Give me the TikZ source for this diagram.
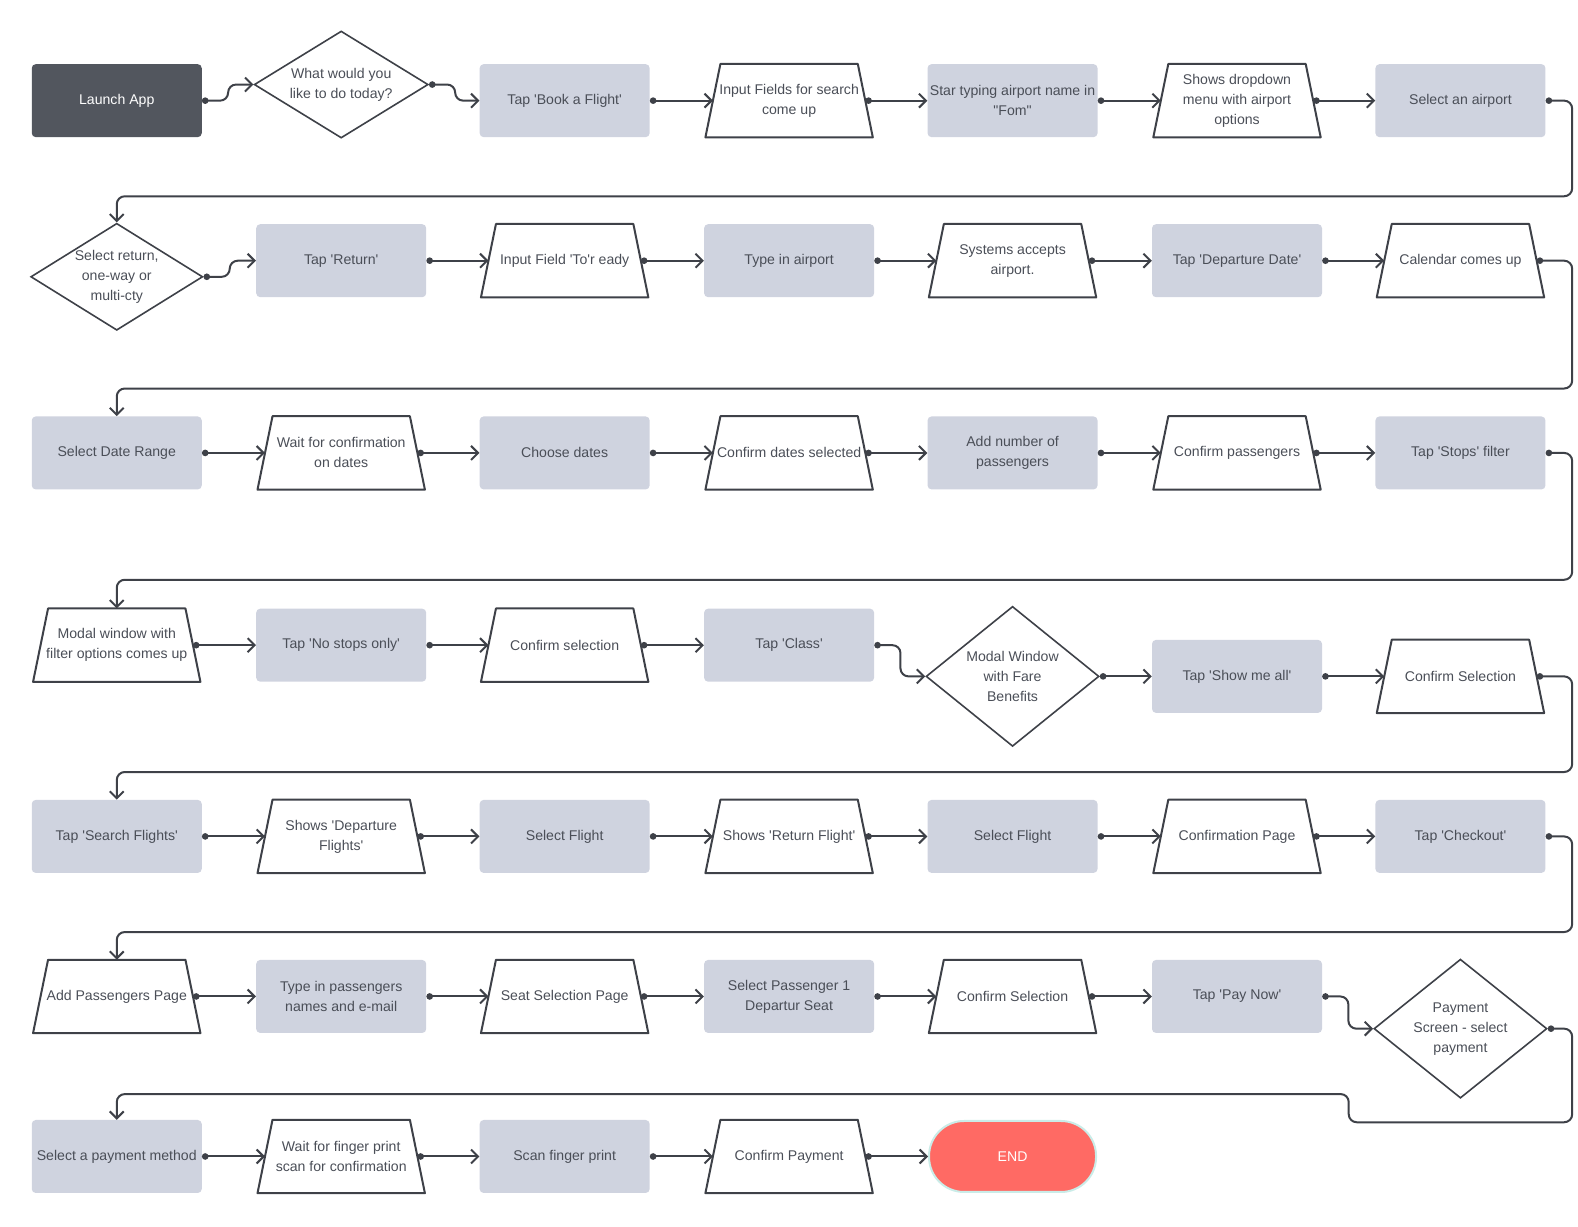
\documentclass[tikz,border=0pt]{standalone}
\usepackage{fontspec}
\usepackage{xcolor}
\usepackage{tikz}
\usetikzlibrary{arrows.meta, shapes.geometric}

\newfontfamily\flowfont{Liberation Sans}
\definecolor{linegray}{RGB}{62,65,72}
\definecolor{textgray}{RGB}{74,78,87}
\definecolor{boxgray}{RGB}{207,211,223}
\definecolor{darkbox}{RGB}{82,86,94}
\definecolor{endred}{RGB}{255,106,100}
\definecolor{endrim}{RGB}{202,236,232}

\begin{document}
\begin{tikzpicture}[x=1.0065bp, y=-1.0065bp,
        every node/.style={font=\flowfont\fontsize{14.1bp}{20bp}\selectfont, text=textgray, align=center},
        action/.style={rectangle, rounded corners=4bp, fill=boxgray, minimum width=170bp, minimum height=73bp, inner sep=0pt},
        launchbox/.style={action, fill=darkbox, text=white},
        screen/.style={rectangle, minimum width=152bp, minimum height=73bp, inner sep=0pt},
        screenline/.style={draw=linegray, line width=2bp, line join=round},
        choice/.style={diamond, aspect=1.6, draw=linegray, line width=1.6bp, minimum width=174bp, minimum height=107bp, inner sep=0pt},
        endbox/.style={rectangle, rounded corners=35bp, fill=endred, draw=endrim, line width=2bp, text=white, minimum width=167bp, minimum height=71bp},
        flow/.style={draw=linegray, line width=2bp, rounded corners=8bp, arrows={Circle[length=6.5bp]-Straight Barb[length=7bp,width=14bp]}}]

        \useasboundingbox (0,0) rectangle (1567.8,1218.1);

        %% Row 1
        \node (launch) [launchbox] at (116,100) {Launch App};
        \node (what) [choice] at (339,84) {What would you\\like to do today?};
        \node (book) [action] at (561,100) {Tap 'Book a Flight'};
        \node (fields) [screen] at (784,100) {Input Fields for search\\come up};
        \node (typing) [action] at (1006,100) {Star typing airport name in\\"Fom"};
        \node (dropdown) [screen] at (1229,100) {Shows dropdown\\menu with airport\\options};
        \node (selair) [action] at (1451,100) {Select an airport};

        %% Row 2
        \node (tripdia) [choice, minimum width=172bp] at (116,275) {Select return,\\one-way or\\multi-cty};
        \node (tapret) [action] at (339,259) {Tap 'Return'};
        \node (tofield) [screen] at (561,259) {Input Field 'To'r eady};
        \node (typeair) [action] at (784,259) {Type in airport};
        \node (accepts) [screen] at (1006,259) {Systems accepts\\airport.};
        \node (depdate) [action] at (1229,259) {Tap 'Departure Date'};
        \node (calendar) [screen] at (1451,259) {Calendar comes up};

        %% Row 3
        \node (range) [action] at (116,450) {Select Date Range};
        \node (waitdates) [screen] at (339,450) {Wait for confirmation\\on dates};
        \node (choose) [action] at (561,450) {Choose dates};
        \node (confdates) [screen] at (784,450) {Confirm dates selected};
        \node (addnum) [action] at (1006,450) {Add number of\\passengers};
        \node (confpass) [screen] at (1229,450) {Confirm passengers};
        \node (stops) [action] at (1451,450) {Tap 'Stops' filter};

        %% Row 4
        \node (modal) [screen] at (116,641) {Modal window with\\filter options comes up};
        \node (nostops) [action] at (339,641) {Tap 'No stops only'};
        \node (confsel) [screen] at (561,641) {Confirm selection};
        \node (class) [action] at (784,641) {Tap 'Class'};
        \node (faredia) [choice, aspect=1.24, minimum width=173bp, minimum height=140bp] at (1006,672) {Modal Window\\with Fare\\Benefits};
        \node (showall) [action] at (1229,672) {Tap 'Show me all'};
        \node (confclass) [screen] at (1451,672) {Confirm Selection};

        %% Row 5
        \node (search) [action] at (116,831) {Tap 'Search Flights'};
        \node (depflights) [screen] at (339,831) {Shows 'Departure\\Flights'};
        \node (selout) [action] at (561,831) {Select Flight};
        \node (retflight) [screen] at (784,831) {Shows 'Return Flight'};
        \node (selback) [action] at (1006,831) {Select Flight};
        \node (confpage) [screen] at (1229,831) {Confirmation Page};
        \node (checkout) [action] at (1451,831) {Tap 'Checkout'};

        %% Row 6
        \node (addpass) [screen] at (116,990) {Add Passengers Page};
        \node (typepass) [action] at (339,990) {Type in passengers\\names and e-mail};
        \node (seatpage) [screen] at (561,990) {Seat Selection Page};
        \node (seatsel) [action] at (784,990) {Select Passenger 1\\Departur Seat};
        \node (confseat) [screen] at (1006,990) {Confirm Selection};
        \node (paynow) [action] at (1229,990) {Tap 'Pay Now'};
        \node (paydia) [choice, aspect=1.24, minimum width=173bp, minimum height=139bp] at (1451,1022) {Payment\\Screen - select\\payment};

        %% Row 7
        \node (selpay) [action] at (116,1149) {Select a payment method};
        \node (waitfinger) [screen] at (339,1149) {Wait for finger print\\scan for confirmation};
        \node (scan) [action] at (561,1149) {Scan finger print};
        \node (confpay) [screen] at (784,1149) {Confirm Payment};
        \node (theend) [endbox] at (1006,1149) {END};

        %% Screen outlines (trapezium)
        \foreach \n in {fields, dropdown, tofield, accepts, calendar, waitdates, confdates, confpass, modal, confsel, confclass, depflights, retflight, confpage, addpass, seatpage, confseat, waitfinger, confpay}
            \draw [screenline] ([xshift=-7.5bp]\n.south west) -- ([xshift=7.5bp]\n.north west) -- ([xshift=-7.5bp]\n.north east) -- ([xshift=7.5bp]\n.south east) -- cycle;

        %% Arrows row 1
        \draw [flow] (launch.east) -- ++(26,0) |- (what.west);
        \draw [flow] (what.east) -- ++(26,0) |- (book.west);
        \draw [flow] (book.east) -- (fields.west);
        \draw [flow] (fields.east) -- (typing.west);
        \draw [flow] (typing.east) -- (dropdown.west);
        \draw [flow] (dropdown.east) -- (selair.west);
        \draw [flow] (selair.east) -| (1562,195) -| (tripdia.north);

        %% Arrows row 2
        \draw [flow] (tripdia.east) -- ++(26,0) |- (tapret.west);
        \draw [flow] (tapret.east) -- (tofield.west);
        \draw [flow] (tofield.east) -- (typeair.west);
        \draw [flow] (typeair.east) -- (accepts.west);
        \draw [flow] (accepts.east) -- (depdate.west);
        \draw [flow] (depdate.east) -- (calendar.west);
        \draw [flow] (calendar.east) -| (1562,386) -| (range.north);

        %% Arrows row 3
        \draw [flow] (range.east) -- (waitdates.west);
        \draw [flow] (waitdates.east) -- (choose.west);
        \draw [flow] (choose.east) -- (confdates.west);
        \draw [flow] (confdates.east) -- (addnum.west);
        \draw [flow] (addnum.east) -- (confpass.west);
        \draw [flow] (confpass.east) -- (stops.west);
        \draw [flow] (stops.east) -| (1562,576) -| (modal.north);

        %% Arrows row 4
        \draw [flow] (modal.east) -- (nostops.west);
        \draw [flow] (nostops.east) -- (confsel.west);
        \draw [flow] (confsel.east) -- (class.west);
        \draw [flow] (class.east) -- ++(26,0) |- (faredia.west);
        \draw [flow] (faredia.east) -- (showall.west);
        \draw [flow] (showall.east) -- (confclass.west);
        \draw [flow] (confclass.east) -| (1562,767) -| (search.north);

        %% Arrows row 5
        \draw [flow] (search.east) -- (depflights.west);
        \draw [flow] (depflights.east) -- (selout.west);
        \draw [flow] (selout.east) -- (retflight.west);
        \draw [flow] (retflight.east) -- (selback.west);
        \draw [flow] (selback.east) -- (confpage.west);
        \draw [flow] (confpage.east) -- (checkout.west);
        \draw [flow] (checkout.east) -| (1562,926) -| (addpass.north);

        %% Arrows row 6
        \draw [flow] (addpass.east) -- (typepass.west);
        \draw [flow] (typepass.east) -- (seatpage.west);
        \draw [flow] (seatpage.east) -- (seatsel.west);
        \draw [flow] (seatsel.east) -- (confseat.west);
        \draw [flow] (confseat.east) -- (paynow.west);
        \draw [flow] (paynow.east) -- ++(26,0) |- (paydia.west);
        \draw [flow] (paydia.east) -| (1562,1115) -| (1340,1087) -| (selpay.north);

        %% Arrows row 7
        \draw [flow] (selpay.east) -- (waitfinger.west);
        \draw [flow] (waitfinger.east) -- (scan.west);
        \draw [flow] (scan.east) -- (confpay.west);
        \draw [flow] (confpay.east) -- (theend.west);

    \end{tikzpicture}
\end{document}
